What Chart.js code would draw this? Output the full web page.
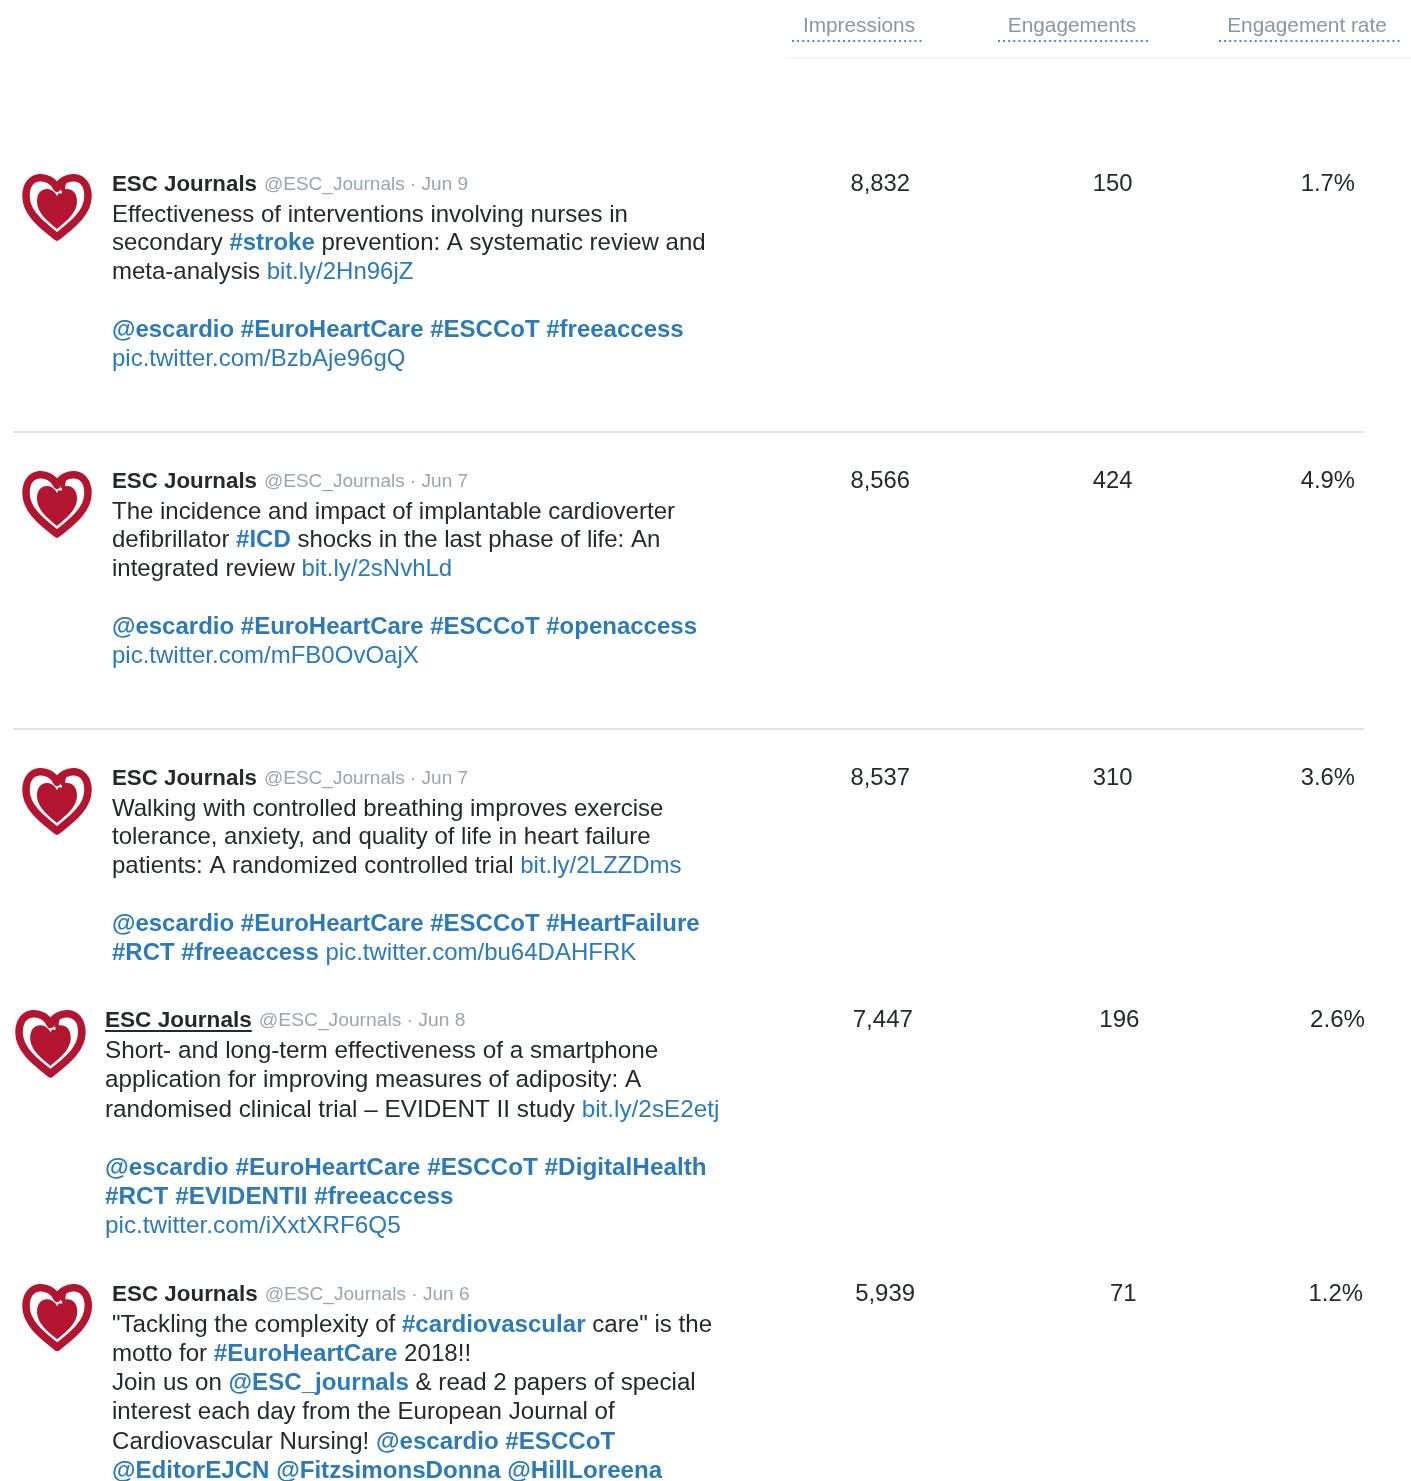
<!DOCTYPE html>
<html>
<head>
<meta charset="utf-8">
<script src="https://cdn.jsdelivr.net/npm/chart.js@4.4.1/dist/chart.umd.min.js"></script>
<style>
html,body{margin:0;padding:0;background:#ffffff;}
#wrap{position:relative;width:1411px;height:1481px;}
</style>
</head>
<body>
<div id="wrap"><canvas id="c"></canvas></div>
<script>
// ---------------- DATA ----------------
const columns = ['Impressions', 'Engagements', 'Engagement rate'];
const impressions = [8832, 8566, 8537, 7447, 5939];
const engagements = [150, 424, 310, 196, 71];
const engagementRate = [1.7, 4.9, 3.6, 2.6, 1.2];
const authorName = 'ESC Journals';
const authorHandle = '@ESC_Journals';
const tweetDates = ['Jun 9', 'Jun 7', 'Jun 7', 'Jun 8', 'Jun 6'];
// n = normal text, h = bold link (hashtag / mention), l = plain link
const tweet1 = [
  [['n', 'Effectiveness of interventions involving nurses in']],
  [['n', 'secondary '], ['h', '#stroke'], ['n', ' prevention: A systematic review and']],
  [['n', 'meta-analysis '], ['l', 'bit.ly/2Hn96jZ']],
  [],
  [['h', '@escardio #EuroHeartCare #ESCCoT #freeaccess']],
  [['l', 'pic.twitter.com/BzbAje96gQ']]
];
const tweet2 = [
  [['n', 'The incidence and impact of implantable cardioverter']],
  [['n', 'defibrillator '], ['h', '#ICD'], ['n', ' shocks in the last phase of life: An']],
  [['n', 'integrated review '], ['l', 'bit.ly/2sNvhLd']],
  [],
  [['h', '@escardio #EuroHeartCare #ESCCoT #openaccess']],
  [['l', 'pic.twitter.com/mFB0OvOajX']]
];
const tweet3 = [
  [['n', 'Walking with controlled breathing improves exercise']],
  [['n', 'tolerance, anxiety, and quality of life in heart failure']],
  [['n', 'patients: A randomized controlled trial '], ['l', 'bit.ly/2LZZDms']],
  [],
  [['h', '@escardio #EuroHeartCare #ESCCoT #HeartFailure']],
  [['h', '#RCT #freeaccess '], ['l', 'pic.twitter.com/bu64DAHFRK']]
];
const tweet4 = [
  [['n', 'Short- and long-term effectiveness of a smartphone']],
  [['n', 'application for improving measures of adiposity: A']],
  [['n', 'randomised clinical trial \u2013 EVIDENT II study '], ['l', 'bit.ly/2sE2etj']],
  [],
  [['h', '@escardio #EuroHeartCare #ESCCoT #DigitalHealth']],
  [['h', '#RCT #EVIDENTII #freeaccess']],
  [['l', 'pic.twitter.com/iXxtXRF6Q5']]
];
const tweet5 = [
  [['n', '"Tackling the complexity of '], ['h', '#cardiovascular'], ['n', ' care" is the']],
  [['n', 'motto for '], ['h', '#EuroHeartCare'], ['n', ' 2018!!']],
  [['n', 'Join us on '], ['h', '@ESC_journals'], ['n', ' & read 2 papers of special']],
  [['n', 'interest each day from the European Journal of']],
  [['n', 'Cardiovascular Nursing! '], ['h', '@escardio #ESCCoT']],
  [['h', '@EditorEJCN @FitzsimonsDonna @HillLoreena']]
];
const tweets = [tweet1, tweet2, tweet3, tweet4, tweet5];

// ---------------- LAYOUT (positions / styles only) ----------------
const ROW_Y = [183, 480, 777, 1019, 1293];      // centre line of each tweet header row
const ROW_TEXT_X = [112, 112, 112, 105, 112];
const ROW_LINE_H = [28.8, 28.8, 28.8, 29.2, 29.2];
const ROW_SCALE = [1, 1, 1, 1.013, 1.005];
const ROW_NUM_DX = [[0, 0, 0], [0, 0, 0], [0, 0, 0], [3, 7, 10], [5, 4, 8]];
const ROW_UNDERLINE_NAME = [false, false, false, true, false];
const COL_RIGHT_FIRST = 910, COL_RIGHT_LAST = 1355; // right edge of value columns
const SEPARATORS = [432, 729];
const FONT = "'Liberation Sans', Arial, Helvetica, sans-serif";
const C_TEXT = '#24292d', C_LINK = '#2b7bb9', C_MUTED = '#98a6b2', C_HEAD = '#8797a5', C_RED = '#b31530';

const W = 1411;
const unit = (COL_RIGHT_LAST - COL_RIGHT_FIRST) / (columns.length - 1);
const xMin = -COL_RIGHT_FIRST / unit;
const xMax = xMin + W / unit;

function fmtInt(v) { return v.toLocaleString('en-US'); }
const columnText = [impressions.map(fmtInt), engagements.map(String), engagementRate.map(v => v.toFixed(1) + '%')];

const datasets = columns.map((name, ci) => ({
  label: name,
  data: columnText[ci].map((t, ri) => ({ x: ci, y: ROW_Y[ri] })),
  texts: columnText[ci],
  pointRadius: 0,
  showLine: false
}));

function heartPath(ctx, cx, top, w, h) {
  ctx.beginPath();
  ctx.moveTo(cx, top + h * 0.2);
  ctx.bezierCurveTo(cx - w * 0.1, top - h * 0.04, cx - w * 0.5, top - h * 0.06, cx - w * 0.5, top + h * 0.33);
  ctx.bezierCurveTo(cx - w * 0.5, top + h * 0.64, cx - w * 0.16, top + h * 0.86, cx, top + h);
  ctx.bezierCurveTo(cx + w * 0.16, top + h * 0.86, cx + w * 0.5, top + h * 0.64, cx + w * 0.5, top + h * 0.33);
  ctx.bezierCurveTo(cx + w * 0.5, top - h * 0.06, cx + w * 0.1, top - h * 0.04, cx, top + h * 0.2);
  ctx.closePath();
}

function drawAvatar(ctx, x, y, s) {
  const w = 70 * s, h = 68 * s, cx = x + w / 2;
  ctx.save();
  ctx.lineJoin = 'round';
  // outer ring
  heartPath(ctx, cx, y + 4 * s, w - 8 * s, h - 7 * s);
  ctx.strokeStyle = C_RED; ctx.lineWidth = 7.5 * s; ctx.stroke();
  // inner heart
  heartPath(ctx, cx, y + 16 * s, w - 30 * s, h - 27 * s);
  ctx.fillStyle = C_RED; ctx.fill();
  // hook at the top joining ring and inner heart
  ctx.strokeStyle = C_RED; ctx.lineWidth = 4.5 * s; ctx.lineCap = 'butt';
  ctx.beginPath();
  ctx.moveTo(cx + 15 * s, y + 6 * s);
  ctx.quadraticCurveTo(cx + 6 * s, y + 7 * s, cx + 6 * s, y + 15 * s);
  ctx.lineTo(cx + 6 * s, y + 20 * s);
  ctx.stroke();
  ctx.fillStyle = '#ffffff';
  ctx.fillRect(cx + 2 * s, y + 19 * s, 3 * s, 2.5 * s);
  ctx.restore();
}

function drawRich(ctx, segs, x, baseline, size) {
  let cx = x;
  segs.forEach(([t, s]) => {
    ctx.font = (t === 'h' ? 'bold ' : '') + size + 'px ' + FONT;
    ctx.fillStyle = t === 'n' ? C_TEXT : C_LINK;
    ctx.fillText(s, cx, baseline);
    cx += ctx.measureText(s).width;
  });
}

const tablePlugin = {
  id: 'tweetTable',
  afterDraw(chart) {
    const ctx = chart.ctx;
    ctx.save();
    ctx.textBaseline = 'alphabetic';
    // header band
    ctx.strokeStyle = '#f3f5f7'; ctx.lineWidth = 2;
    ctx.beginPath(); ctx.moveTo(785, 58); ctx.lineTo(W, 58); ctx.stroke();
    const headCx = [859, 1072, 1307];
    const headUl = [[792, 923], [998, 1150], [1219, 1400]];
    columns.forEach((c, i) => {
      ctx.font = '20.8px ' + FONT;
      ctx.fillStyle = C_HEAD; ctx.textAlign = 'center';
      ctx.fillText(c, headCx[i], 24 + 7.5);
      ctx.save();
      ctx.strokeStyle = '#3d95dc'; ctx.lineWidth = 2.2; ctx.setLineDash([2, 3.1]);
      ctx.beginPath(); ctx.moveTo(headUl[i][0], 41); ctx.lineTo(headUl[i][1], 41); ctx.stroke();
      ctx.restore();
    });
    // separators
    ctx.strokeStyle = '#dde3e8'; ctx.lineWidth = 2;
    SEPARATORS.forEach(y => { ctx.beginPath(); ctx.moveTo(13, y); ctx.lineTo(1364, y); ctx.stroke(); });
    // value columns through the scales
    ctx.textAlign = 'right';
    ctx.fillStyle = C_TEXT;
    chart.data.datasets.forEach((ds, di) => {
      const meta = chart.getDatasetMeta(di);
      meta.data.forEach((pt, ri) => {
        const sz = 23.8 * ROW_SCALE[ri];
        ctx.font = sz + 'px ' + FONT;
        ctx.fillText(ds.texts[ri], pt.x + ROW_NUM_DX[ri][di], pt.y + sz * 0.33);
      });
    });
    // tweets
    ctx.textAlign = 'left';
    tweets.forEach((lines, ri) => {
      const sc = ROW_SCALE[ri];
      const tx = ROW_TEXT_X[ri], ny = ROW_Y[ri];
      drawAvatar(ctx, tx - 90, ny - 11, sc);
      const nameSz = 22.3 * sc;
      ctx.font = 'bold ' + nameSz + 'px ' + FONT;
      ctx.fillStyle = C_TEXT;
      ctx.fillText(authorName, tx, ny + nameSz * 0.36);
      const nw = ctx.measureText(authorName).width;
      if (ROW_UNDERLINE_NAME[ri]) {
        ctx.fillRect(tx, ny + 11, nw, 2);
      }
      ctx.font = (19 * sc) + 'px ' + FONT;
      ctx.fillStyle = C_MUTED;
      ctx.fillText(authorHandle + ' \u00b7 ' + tweetDates[ri], tx + nw + 7, ny + 19 * sc * 0.36);
      const bodySz = 24 * sc;
      lines.forEach((segs, li) => {
        const cy = ny + 30 * sc + li * ROW_LINE_H[ri];
        drawRich(ctx, segs, tx, cy + bodySz * 0.36, bodySz);
      });
    });
    ctx.restore();
  }
};

new Chart(document.getElementById('c'), {
  type: 'scatter',
  data: { datasets },
  options: {
    responsive: true,
    maintainAspectRatio: false,
    animation: false,
    layout: { padding: 0 },
    plugins: { legend: { display: false }, tooltip: { enabled: false } },
    scales: {
      x: { type: 'linear', display: false, min: xMin, max: xMax },
      y: { type: 'linear', display: false, min: 0, max: 1481, reverse: true }
    }
  },
  plugins: [tablePlugin]
});
</script>
</body>
</html>
